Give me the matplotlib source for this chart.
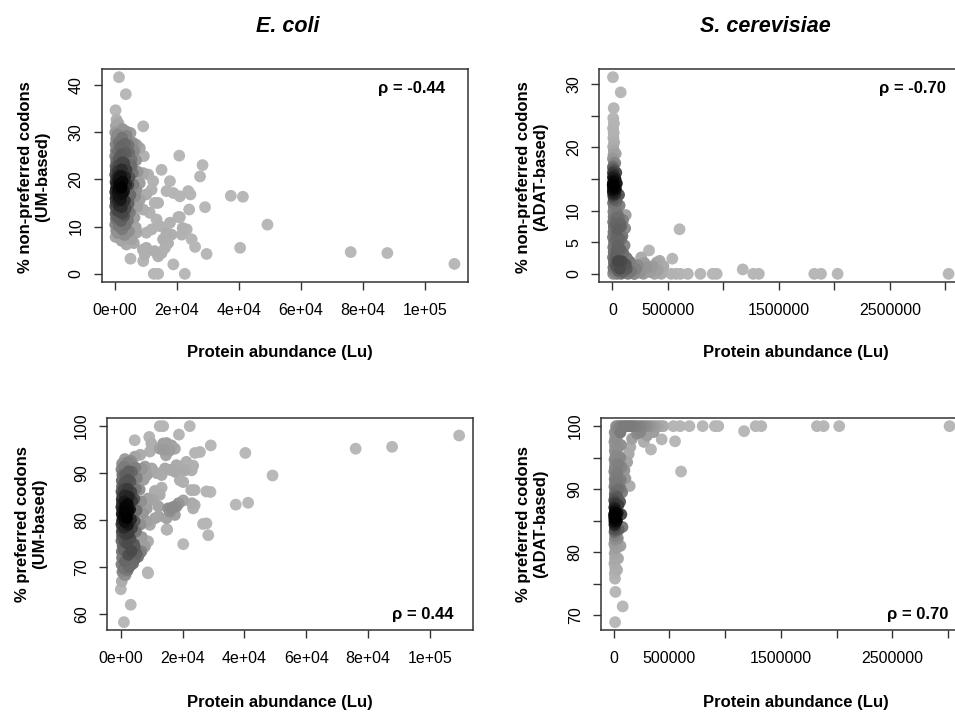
import numpy as np
import matplotlib
matplotlib.use("Agg")
import matplotlib.pyplot as plt

plt.rcParams['font.family'] = ['Liberation Sans', 'DejaVu Sans']

# E. coli, % non-preferred codons (UM-based) vs abundance (thousands of Lu)
ecoli_np_sparse = [
    (1.4, 41.6), (3.6, 38.0), (0.3, 34.6), (9.2, 31.2), (20.8, 25.0), (28.3, 23.0),
    (27.5, 20.6), (15.1, 22.0), (37.4, 16.5), (41.3, 16.3), (49.2, 10.4), (40.4, 5.5),
    (76.0, 4.6), (87.8, 4.4), (109.4, 2.1), (29.1, 14.1), (29.6, 4.2), (24.0, 13.6),
    (25.9, 5.7), (24.8, 7.3), (21.9, 9.7), (23.2, 9.4), (21.6, 8.3), (21.0, 12.0),
    (18.9, 2.0), (22.6, 0.0), (12.6, 0.0), (14.0, 0.0), (21.0, 16.4), (23.7, 17.5),
    (24.4, 16.8), (17.8, 19.6), (16.7, 17.5), (18.9, 17.1), (12.4, 19.6), (10.8, 21.0),
    (9.2, 21.3), (14.0, 15.0), (12.9, 15.0), (11.9, 17.8), (8.1, 26.6), (9.4, 24.9),
    (5.9, 27.7), (7.0, 27.3), (3.8, 30.1), (5.1, 29.8), (5.4, 24.2), (17.8, 10.8),
    (18.3, 8.3), (17.2, 6.5), (16.2, 5.5), (15.1, 4.4), (14.0, 3.7), (12.9, 4.8),
    (10.2, 5.5), (9.2, 2.7), (9.7, 4.1), (5.1, 3.2), (3.8, 6.2), (5.4, 7.3),
    (7.0, 8.7), (10.2, 8.7), (11.9, 9.4), (14.5, 10.1), (15.6, 7.3), (16.7, 8.7),
    (13.5, 11.5), (11.3, 12.9), (9.2, 13.6), (8.1, 15.7), (10.2, 16.8), (7.0, 17.8),
    (8.1, 19.2), (5.9, 21.3), (5.4, 22.7), (3.8, 22.0), (20.5, 12.0), (9.1, 5.1),
]
ecoli_np_core = [
    (0.3, 7.8), (0.5, 9.1), (0.2, 10.4), (0.4, 11.6), (0.3, 12.7), (0.6, 13.5), (0.2, 14.3),
    (0.4, 15.1), (0.3, 15.9), (0.5, 16.6), (0.2, 17.3), (0.4, 18.0), (0.6, 18.7), (0.3, 19.4),
    (0.5, 20.2), (0.2, 21.0), (0.4, 21.9), (0.3, 22.8), (0.5, 23.8), (0.2, 24.9), (0.4, 26.1),
    (0.3, 27.4), (0.5, 28.6), (0.2, 29.9), (0.4, 31.3), (0.6, 32.6),
    (1.1, 8.6), (1.3, 10.1), (1.0, 11.9), (1.2, 13.2), (1.4, 14.4), (1.1, 15.4), (1.3, 16.3),
    (1.0, 17.2), (1.2, 18.1), (1.4, 19.0), (1.1, 19.9), (1.3, 20.8), (1.0, 21.8), (1.2, 23.0),
    (1.4, 24.4), (1.1, 25.9), (1.3, 27.8), (1.0, 29.5), (1.2, 31.8),
    (2.2, 7.0), (2.4, 9.4), (2.1, 11.2), (2.5, 12.8), (2.3, 14.1), (2.0, 15.6), (2.4, 16.9),
    (2.2, 18.3), (2.6, 19.5), (2.1, 20.7), (2.3, 22.1), (2.5, 23.6), (2.2, 25.3), (2.0, 27.0),
    (2.4, 28.8), (2.6, 30.6),
    (3.2, 8.2), (3.5, 10.4), (3.1, 12.3), (3.6, 13.8), (3.3, 15.5), (3.0, 17.4), (3.7, 18.9),
    (3.4, 20.5), (3.1, 23.4), (3.6, 25.6), (3.3, 27.5), (3.8, 29.2),
    (4.6, 9.0), (4.3, 11.3), (4.9, 13.0), (4.5, 14.9), (5.1, 16.7), (4.4, 18.8), (4.8, 20.4),
    (5.2, 23.1), (4.7, 25.7), (4.5, 27.2),
    (6.2, 6.5), (6.8, 9.8), (6.4, 11.9), (7.2, 14.2), (6.6, 16.4), (6.1, 18.9), (7.4, 21.6),
    (6.9, 24.0), (6.3, 26.0),
]

# E. coli, % preferred codons (UM-based)
ecoli_p_sparse = [
    (109.5, 98.0), (76.0, 95.2), (87.8, 95.6), (40.3, 94.3), (49.1, 89.5), (37.2, 83.3),
    (41.2, 83.7), (29.0, 86.0), (29.1, 95.9), (24.0, 94.3), (22.3, 100.0), (12.6, 100.0),
    (13.7, 100.0), (18.8, 98.2), (27.7, 79.3), (28.3, 76.8), (20.2, 74.9), (15.0, 78.0),
    (3.2, 62.0), (1.0, 58.3), (0.0, 65.3), (8.8, 68.7), (4.5, 97.0), (9.2, 97.7),
    (9.9, 96.3), (13.7, 96.3), (16.4, 95.9), (17.5, 95.2), (15.8, 94.8), (12.6, 95.2),
    (14.6, 93.8), (25.6, 94.5), (21.2, 92.4), (22.9, 90.6), (20.7, 90.6), (23.4, 91.6),
    (23.9, 86.4), (20.2, 88.1), (19.1, 88.5), (23.9, 83.2), (23.4, 82.5), (20.2, 84.2),
    (18.6, 83.5), (16.9, 82.8), (15.3, 82.5), (9.4, 94.6), (14.8, 96.4), (13.8, 95.0),
    (18.0, 91.7), (17.5, 90.3), (15.9, 90.7), (14.3, 91.0), (13.2, 89.6), (11.6, 90.0),
    (10.0, 91.0), (7.8, 91.4), (8.4, 89.6), (22.8, 86.4), (27.7, 86.1), (12.6, 85.4),
    (13.2, 86.9), (11.0, 86.2), (10.5, 84.3), (8.8, 84.6), (12.2, 82.9), (8.4, 82.5),
    (18.7, 83.6), (18.0, 82.9), (16.4, 82.5), (17.5, 81.1), (15.9, 81.8), (14.8, 80.4),
    (12.2, 80.8), (11.0, 80.4), (9.4, 79.0), (8.4, 79.7), (23.0, 83.6), (26.6, 79.2),
    (14.8, 78.0), (8.8, 75.5), (7.8, 74.4), (6.7, 73.4), (8.7, 68.9), (5.1, 72.9),
    (5.6, 72.2), (4.0, 70.8), (4.5, 74.3), (1.5, 68.3), (1.0, 69.7), (2.6, 70.0),
]
ecoli_p_core = [
    (0.3, 67.0), (0.5, 69.0), (0.2, 70.6), (0.4, 72.0), (0.3, 73.3), (0.6, 74.5), (0.2, 75.6),
    (0.4, 76.6), (0.3, 77.5), (0.5, 78.3), (0.2, 79.1), (0.4, 79.9), (0.6, 80.6), (0.3, 81.3),
    (0.5, 82.0), (0.2, 82.8), (0.4, 83.6), (0.3, 84.4), (0.5, 85.2), (0.2, 86.1), (0.4, 87.2),
    (0.3, 88.4), (0.5, 89.6), (0.2, 90.8), (0.4, 92.0),
    (1.1, 68.4), (1.3, 71.2), (1.0, 73.6), (1.2, 75.4), (1.4, 77.0), (1.1, 78.4), (1.3, 79.6),
    (1.0, 80.7), (1.2, 81.8), (1.4, 82.9), (1.1, 84.0), (1.3, 85.3), (1.0, 86.6), (1.2, 88.0),
    (1.4, 89.7), (1.1, 91.4), (1.3, 93.0),
    (2.2, 69.3), (2.4, 72.6), (2.1, 75.0), (2.5, 77.2), (2.3, 79.0), (2.0, 80.5), (2.4, 82.0),
    (2.2, 83.5), (2.6, 85.0), (2.1, 86.7), (2.3, 88.6), (2.5, 90.4), (2.2, 92.3),
    (3.2, 70.4), (3.5, 73.4), (3.1, 76.1), (3.6, 78.3), (3.3, 80.2), (3.0, 82.3), (3.7, 84.1),
    (3.4, 86.0), (3.1, 88.2), (3.6, 90.3), (3.3, 92.6),
    (4.6, 71.8), (4.3, 74.9), (4.9, 77.6), (4.5, 79.8), (5.1, 82.1), (4.4, 84.5), (4.8, 86.7),
    (5.2, 89.0), (4.7, 91.2), (4.5, 93.5),
    (6.2, 73.0), (6.8, 76.4), (6.4, 79.1), (7.2, 81.5), (6.6, 84.0), (6.1, 86.5), (7.4, 88.6),
    (6.9, 90.9), (6.3, 93.9),
]

# S. cerevisiae, % non-preferred codons (ADAT-based)
yeast_np_sparse = [
    (5, 31.1), (75, 28.7), (12, 26.2), (605, 7.05), (540, 2.4), (426, 2.05), (330, 3.7),
    (260, 2.6), (1175, 0.7), (530, 0.0), (575, 0.0), (614, 0.0), (680, 0.0), (793, 0.0),
    (904, 0.0), (940, 0.0), (1270, 0.0), (1320, 0.0), (1820, 0.0), (1880, 0.0), (2030, 0.0),
    (3030, 0.0), (95, 0.3), (140, 0.0), (170, 0.4), (195, 0.0), (215, 0.8), (250, 0.2),
    (280, 0.0), (310, 1.0), (340, 0.3), (380, 0.0), (410, 0.6), (440, 0.0), (460, 1.2),
    (120, 1.5), (160, 1.9), (230, 1.4), (290, 1.7), (365, 1.2), (200, 0.0), (130, 0.8),
    (400, 1.8), (120, 9.3), (96, 8.5), (80, 7.5), (90, 6.0), (110, 4.5), (80, 5.5),
    (100, 3.2), (130, 2.5), (70, 8.0), (115, 7.2), (60, 4.0), (85, 2.0),
]
yeast_np_core = [
    (8, 24.6), (14, 23.8), (6, 23.0), (12, 22.3), (9, 21.5), (16, 20.8), (7, 20.1), (13, 19.5),
    (10, 18.8), (5, 18.2), (15, 17.6), (8, 17.0), (12, 16.5), (6, 16.0), (14, 15.6), (9, 15.2),
    (11, 14.8), (7, 14.4), (13, 14.0), (5, 13.6), (10, 13.2), (15, 12.8), (8, 12.3), (12, 11.8),
    (6, 11.2), (14, 10.5), (9, 9.8), (11, 9.0), (7, 8.2), (13, 7.4), (10, 6.6), (5, 5.8),
    (15, 5.0), (8, 4.2), (12, 3.4), (6, 2.6), (14, 1.8), (9, 1.0), (11, 0.4), (7, 0.0),
    (30, 19.0), (26, 17.5), (35, 16.0), (28, 15.0), (40, 14.3), (32, 13.4), (27, 12.6),
    (38, 11.5), (30, 10.6), (42, 9.6), (34, 8.8), (28, 7.9), (45, 7.0), (36, 6.2), (31, 5.4),
    (48, 4.5), (38, 3.7), (29, 2.8), (44, 2.0), (33, 1.2), (50, 0.5), (40, 0.0),
    (60, 12.5), (65, 10.8), (58, 9.0), (70, 7.5), (62, 5.5), (75, 3.8), (57, 2.0), (68, 0.8),
    (78, 0.0),
    (4, 13.0), (10, 14.5), (6, 15.3), (12, 16.2), (3, 14.1), (9, 12.6), (14, 13.7), (5, 16.8),
    (8, 15.9), (11, 13.4),
]

# S. cerevisiae, % preferred codons (ADAT-based)
yeast_p_sparse = [
    (20, 100), (40, 100), (60, 100), (80, 100), (100, 100), (120, 100), (140, 100),
    (160, 100), (180, 100), (200, 100), (225, 100), (250, 100), (275, 100), (300, 100),
    (330, 100), (360, 100), (390, 100), (420, 100), (445, 100), (536, 100), (595, 100),
    (679, 100), (798, 100), (908, 100), (938, 100), (1274, 100), (1324, 100), (1824, 100),
    (1884, 100), (2024, 100), (3015, 100),
    (1170, 99.2), (550, 97.6), (430, 97.9), (334, 96.3), (270, 97.5), (604, 92.8),
    (143, 90.5), (15, 73.7), (80, 71.4), (12, 68.9), (164, 98.0), (209, 98.8),
    (238, 99.05), (104, 91.7), (96, 93.0), (120, 94.3), (134, 95.6), (149, 96.7),
    (357, 99.05), (298, 98.5), (60, 90.1),
]
yeast_p_core = [
    (8, 99.0), (14, 98.2), (6, 97.5), (12, 96.8), (9, 96.1), (16, 95.4), (7, 94.7), (13, 94.0),
    (10, 93.4), (5, 92.8), (15, 92.2), (8, 91.6), (12, 91.0), (6, 90.4), (14, 89.8), (9, 89.2),
    (11, 88.6), (7, 88.1), (13, 87.6), (5, 87.1), (10, 86.6), (15, 86.2), (8, 85.8), (12, 85.4),
    (6, 85.0), (14, 84.6), (9, 84.2), (11, 83.7), (7, 83.2), (13, 82.6), (10, 82.0), (5, 81.3),
    (15, 80.6), (8, 79.8), (12, 79.0), (6, 78.2), (14, 77.4), (9, 76.6), (11, 75.8),
    (30, 99.5), (26, 98.0), (35, 96.5), (28, 95.2), (40, 94.0), (32, 92.6), (27, 91.3),
    (38, 90.0), (30, 88.8), (42, 87.5), (34, 86.2), (28, 85.0), (45, 83.6), (36, 82.2),
    (31, 80.8), (38, 79.0), (29, 77.2),
    (60, 99.0), (65, 97.0), (58, 95.0), (70, 93.5), (62, 91.5), (75, 89.5), (57, 88.0),
    (68, 86.0), (78, 84.0), (60, 81.0),
    (4, 85.5), (10, 86.9), (6, 84.4), (12, 87.8), (3, 86.0), (9, 83.5), (14, 85.1), (5, 88.3),
    (8, 84.8), (11, 86.3),
]

ecoli_xticks = [0, 2e4, 4e4, 6e4, 8e4, 1e5]
ecoli_xlabels = ["0e+00", "2e+04", "4e+04", "6e+04", "8e+04", "1e+05"]
yeast_xticks = [0, 5e5, 1e6, 1.5e6, 2e6, 2.5e6, 3e6]
yeast_xlabels = ["0", "500000", "", "1500000", "", "2500000", ""]

W, H = 955, 713
fig = plt.figure(figsize=(W / 100, H / 100), dpi=100)


def r_lim(v):
    # R style axis range, 4% padding each side
    lo, hi = min(v), max(v)
    pad = 0.04 * (hi - lo)
    return lo - pad, hi + pad


def panel(box, pts_a, pts_b, yticks, ylabels, xticks, xlabels, rho, rho_xy):
    left, top, right, bottom = box
    ax = fig.add_axes([left / W, 1 - bottom / H, (right - left) / W, (bottom - top) / H])
    pts = np.array(pts_a + pts_b, dtype=float)
    x = pts[:, 0] * 1e3
    y = pts[:, 1]
    ax.set_xlim(r_lim(x))
    ax.set_ylim(r_lim(y))

    # density based grey shades, like densCols (grey70 -> black)
    xy = ax.transData.transform(np.column_stack([x, y]))
    d2 = ((xy[:, None, :] - xy[None, :, :]) ** 2).sum(-1)
    dens = np.exp(-d2 / (2 * 8.0 ** 2)).sum(1)
    dn = (dens - dens.min()) / (dens.max() - dens.min())
    g = 0.72 * (1 - dn ** 2.1)
    order = np.argsort(dn)
    cols = np.column_stack([g, g, g])[order]
    ax.scatter(x[order], y[order], c=cols, s=72, edgecolors='none', zorder=2)

    ax.set_xticks(xticks)
    ax.set_xticklabels(xlabels)
    ax.set_yticks(yticks)
    ax.set_yticklabels(ylabels, rotation=90, va='center')
    ax.tick_params(direction='out', length=6, width=1.0, color='#333333',
                   labelsize=11.5, pad=7)
    ax.tick_params(axis='x', pad=9)
    for s in ax.spines.values():
        s.set_color('#333333')
        s.set_linewidth(1.1)
    fig.text(rho_xy[0] / W, 1 - rho_xy[1] / H, rho, ha='right', va='center',
             fontsize=12, fontweight='bold')
    return ax


panel((101.7, 69.3, 468, 281.7), ecoli_np_sparse, ecoli_np_core,
      [0, 10, 20, 30, 40], ["0", "10", "20", "30", "40"],
      ecoli_xticks, ecoli_xlabels, "ρ = -0.44", (445, 89))
panel((599.3, 69.3, 962, 281.7), yeast_np_sparse, yeast_np_core,
      [0, 5, 10, 15, 20, 25, 30], ["0", "5", "10", "", "20", "", "30"],
      yeast_xticks, yeast_xlabels, "ρ = -0.70", (946, 89))
panel((107.3, 418.3, 472.7, 630), ecoli_p_sparse, ecoli_p_core,
      [60, 70, 80, 90, 100], ["60", "70", "80", "90", "100"],
      ecoli_xticks, ecoli_xlabels, "ρ = 0.44", (453, 615))
panel((600.7, 418.3, 963, 630), yeast_p_sparse, yeast_p_core,
      [70, 75, 80, 85, 90, 95, 100], ["70", "", "80", "", "90", "", "100"],
      yeast_xticks, yeast_xlabels, "ρ = 0.70", (948, 615))

# axis titles
for cx, cy in [(280, 352), (795.7, 352), (280, 703), (795.7, 703)]:
    fig.text(cx / W, 1 - cy / H, "Protein abundance (Lu)", ha='center', va='center',
             fontsize=12, fontweight='bold')

ylabs = [
    (34, 177, "% non-preferred codons\n(UM-based)"),
    (532, 177, "% non-preferred codons\n(ADAT-based)"),
    (31, 524, "% preferred codons\n(UM-based)"),
    (532, 524, "% preferred codons\n(ADAT-based)"),
]
for cx, cy, t in ylabs:
    fig.text(cx / W, 1 - cy / H, t, rotation=90, ha='center', va='center',
             multialignment='center', fontsize=12, fontweight='bold', linespacing=1.15)

fig.text(288 / W, 1 - 27 / H, "E. coli", ha='center', va='center',
         fontsize=15.5, fontweight='bold', fontstyle='italic')
fig.text(765 / W, 1 - 27 / H, "S. cerevisiae", ha='center', va='center',
         fontsize=15.5, fontweight='bold', fontstyle='italic')

fig.savefig("out.png", dpi=100)
